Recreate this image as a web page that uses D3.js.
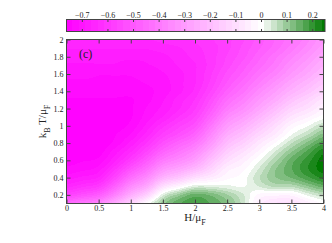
<!DOCTYPE html>
<html>
<head>
<meta charset="utf-8">
<script src="https://cdn.jsdelivr.net/npm/d3@7"></script>
<style>
    body { margin: 0; background: #fff; }
    text { font-family: "Liberation Serif", "Times New Roman", serif; fill: #222; }
</style>
</head>
<body>
<div id="chart"></div>
<script>
// grid nodes of the map
var hValues = [0, 0.25, 0.5, 0.75, 1, 1.25, 1.5, 1.75, 2, 2.25, 2.5, 2.75, 3, 3.25, 3.5, 3.75, 4]
var tValues = [2.0, 1.9, 1.8, 1.7, 1.6, 1.5, 1.4, 1.3, 1.2, 1.1, 1.0, 0.9, 0.8, 0.7, 0.6, 0.5, 0.4, 0.3, 0.2, 0.1]

// one column per H value, entries follow tValues (top to bottom)
var zColumns = [
    [-0.64, -0.66, -0.68, -0.69, -0.70, -0.72, -0.73, -0.74, -0.75, -0.75, -0.76, -0.76, -0.76, -0.76, -0.75, -0.73, -0.70, -0.65, -0.57, -0.45],
    [-0.64, -0.66, -0.68, -0.69, -0.70, -0.72, -0.73, -0.74, -0.75, -0.75, -0.76, -0.76, -0.76, -0.76, -0.74, -0.72, -0.68, -0.62, -0.53, -0.41],
    [-0.64, -0.66, -0.68, -0.69, -0.71, -0.72, -0.73, -0.74, -0.75, -0.75, -0.76, -0.76, -0.76, -0.75, -0.73, -0.70, -0.66, -0.59, -0.49, -0.37],
    [-0.64, -0.66, -0.68, -0.69, -0.71, -0.72, -0.73, -0.74, -0.75, -0.75, -0.75, -0.74, -0.73, -0.70, -0.67, -0.62, -0.56, -0.48, -0.38, -0.26],
    [-0.64, -0.66, -0.68, -0.70, -0.71, -0.72, -0.73, -0.74, -0.74, -0.74, -0.73, -0.71, -0.68, -0.64, -0.59, -0.52, -0.44, -0.35, -0.25, -0.14],
    [-0.64, -0.66, -0.68, -0.69, -0.70, -0.71, -0.72, -0.72, -0.71, -0.70, -0.68, -0.65, -0.61, -0.56, -0.50, -0.43, -0.35, -0.26, -0.14, -0.01],
    [-0.63, -0.65, -0.67, -0.68, -0.69, -0.70, -0.70, -0.69, -0.68, -0.66, -0.62, -0.58, -0.53, -0.47, -0.40, -0.32, -0.23, -0.10, 0.03, 0.10],
    [-0.62, -0.64, -0.65, -0.66, -0.67, -0.67, -0.67, -0.65, -0.64, -0.61, -0.57, -0.53, -0.47, -0.41, -0.35, -0.27, -0.17, -0.03, 0.10, 0.16],
    [-0.61, -0.62, -0.63, -0.64, -0.64, -0.64, -0.63, -0.61, -0.59, -0.56, -0.52, -0.47, -0.41, -0.35, -0.29, -0.21, -0.10, 0.03, 0.15, 0.18],
    [-0.59, -0.60, -0.60, -0.60, -0.59, -0.58, -0.56, -0.53, -0.50, -0.46, -0.41, -0.36, -0.31, -0.25, -0.19, -0.13, -0.06, 0.03, 0.13, 0.16],
    [-0.57, -0.57, -0.56, -0.55, -0.53, -0.51, -0.48, -0.44, -0.40, -0.35, -0.30, -0.25, -0.20, -0.15, -0.10, -0.05, -0.02, 0.02, 0.09, 0.12],
    [-0.54, -0.53, -0.52, -0.50, -0.48, -0.45, -0.42, -0.38, -0.34, -0.29, -0.24, -0.19, -0.14, -0.09, -0.05, -0.02, 0.00, 0.01, 0.04, 0.05],
    [-0.50, -0.49, -0.47, -0.45, -0.42, -0.39, -0.35, -0.31, -0.27, -0.22, -0.17, -0.12, -0.07, -0.03, 0.01, 0.04, 0.06, 0.04, -0.02, -0.05],
    [-0.46, -0.45, -0.42, -0.40, -0.37, -0.33, -0.29, -0.25, -0.20, -0.15, -0.10, -0.06, -0.01, 0.04, 0.08, 0.11, 0.11, 0.07, -0.03, -0.09],
    [-0.42, -0.40, -0.37, -0.34, -0.31, -0.27, -0.23, -0.18, -0.13, -0.08, -0.03, 0.01, 0.06, 0.11, 0.15, 0.16, 0.14, 0.07, -0.03, -0.09],
    [-0.37, -0.35, -0.32, -0.29, -0.26, -0.22, -0.18, -0.13, -0.09, -0.04, 0.01, 0.06, 0.12, 0.17, 0.20, 0.21, 0.18, 0.11, 0.02, -0.05],
    [-0.32, -0.30, -0.27, -0.24, -0.21, -0.17, -0.13, -0.08, -0.04, 0.00, 0.06, 0.12, 0.18, 0.23, 0.25, 0.25, 0.22, 0.15, 0.06, -0.01]
]

var xTicks = [0, 0.5, 1, 1.5, 2, 2.5, 3, 3.5, 4]
var yTicks = [0.2, 0.4, 0.6, 0.8, 1, 1.2, 1.4, 1.6, 1.8, 2]
var cbTicks = [-0.7, -0.6, -0.5, -0.4, -0.3, -0.2, -0.1, 0, 0.1, 0.2]
var cbRange = [-0.76, 0.25]

//---------------------------------------------------
// layout
//---------------------------------------------------
var width = 332, height = 243
var plotLeft = 66.5, plotRight = 323.5, plotTop = 39.5, plotBottom = 203.5
var barTop = 19.5, barBottom = 31.5, barLeft = 66.5, barRight = 325
var frameColor = "#444"

var svg = d3.select("#chart").append("svg")
    .attr("width", width)
    .attr("height", height)

var x = d3.scaleLinear().domain([0, 4]).range([plotLeft, plotRight])
var y = d3.scaleLinear().domain([0.1, 2]).range([plotBottom, plotTop])
var cbX = d3.scaleLinear().domain(cbRange).range([barLeft, barRight])

var color = d3.scaleLinear()
    .domain([cbRange[0], 0, cbRange[1]])
    .range(["#ff00ff", "#ffffff", "#007a00"])
    .clamp(true)
var step = 0.025
function bandColor(v) {
    return color(Math.round(v / step) * step)
}

// fractional grid index for a given H or T
var hIndex = d3.scaleLinear().domain([hValues[0], hValues[hValues.length - 1]]).range([0, hValues.length - 1]).clamp(true)
var tIndex = d3.scaleLinear().domain([tValues[0], tValues[tValues.length - 1]]).range([0, tValues.length - 1]).clamp(true)

// smooth (catmull-rom) shading between the grid nodes
function cr(p0, p1, p2, p3, s) {
    return 0.5 * (2 * p1 + (p2 - p0) * s + (2 * p0 - 5 * p1 + 4 * p2 - p3) * s * s + (3 * p1 - p0 - 3 * p2 + p3) * s * s * s)
}
function node(i, j) {
    i = Math.max(0, Math.min(hValues.length - 1, i))
    j = Math.max(0, Math.min(tValues.length - 1, j))
    return zColumns[i][j]
}
function valueAt(h, t) {
    var fi = hIndex(h), fj = tIndex(t)
    var i0 = Math.min(Math.floor(fi), hValues.length - 2)
    var j0 = Math.min(Math.floor(fj), tValues.length - 2)
    var a = fi - i0, b = fj - j0
    var col = []
    for (var k = -1; k <= 2; k++) {
        col.push(cr(node(i0 - 1, j0 + k), node(i0, j0 + k), node(i0 + 1, j0 + k), node(i0 + 2, j0 + k), a))
    }
    return cr(col[0], col[1], col[2], col[3], b)
}

//------------------------------------------
// the map, drawn as runs of equal colour per pixel row
//------------------------------------------
var cells = []
var pxStart = Math.ceil(plotLeft), pxEnd = Math.floor(plotRight)
for (var py = Math.ceil(plotTop); py < plotBottom; py++) {
    var t = y.invert(py + 0.5)
    var runStart = pxStart, runColor = null
    for (var px = pxStart; px < pxEnd; px++) {
        var c = bandColor(valueAt(x.invert(px + 0.5), t))
        if (c !== runColor) {
            if (runColor !== null) cells.push({ x: runStart, y: py, w: px - runStart, c: runColor })
            runStart = px
            runColor = c
        }
    }
    cells.push({ x: runStart, y: py, w: pxEnd - runStart, c: runColor })
}

svg.append("g").selectAll("rect")
    .data(cells)
    .enter().append("rect")
    .attr("x", d => d.x).attr("y", d => d.y)
    .attr("width", d => d.w + 0.3).attr("height", 1.3)
    .attr("fill", d => d.c)
    .attr("shape-rendering", "crispEdges")

//------------------------------------------
// axes with inward ticks on all four sides
//------------------------------------------
function styleAxis(sel) {
    sel.select(".domain").remove()
    sel.selectAll("line").attr("stroke", frameColor)
    sel.selectAll("text").style("font-size", "8px").style("fill", "#222")
}

svg.append("g")
    .attr("transform", "translate(0," + plotBottom + ")")
    .call(d3.axisBottom(x).tickValues(xTicks).tickSizeInner(-4).tickSizeOuter(0).tickPadding(1.5).tickFormat(d3.format("~g")))
    .call(styleAxis)
svg.append("g")
    .attr("transform", "translate(0," + plotTop + ")")
    .call(d3.axisTop(x).tickValues(xTicks).tickSizeInner(-4).tickSizeOuter(0).tickFormat(""))
    .call(styleAxis)
svg.append("g")
    .attr("transform", "translate(" + plotLeft + ",0)")
    .call(d3.axisLeft(y).tickValues(yTicks).tickSizeInner(-4).tickSizeOuter(0).tickPadding(3).tickFormat(d3.format("~g")))
    .call(styleAxis)
svg.append("g")
    .attr("transform", "translate(" + plotRight + ",0)")
    .call(d3.axisRight(y).tickValues(yTicks).tickSizeInner(-4).tickSizeOuter(0).tickFormat(""))
    .call(styleAxis)

svg.append("rect")
    .attr("x", plotLeft).attr("y", plotTop)
    .attr("width", plotRight - plotLeft).attr("height", plotBottom - plotTop)
    .attr("fill", "none").attr("stroke", frameColor).attr("stroke-width", 1)

//------------------------------------------
// colour bar
//------------------------------------------
var barPixels = d3.range(Math.ceil(barLeft), Math.floor(barRight))
svg.append("g").selectAll("rect")
    .data(barPixels)
    .enter().append("rect")
    .attr("x", d => d).attr("y", barTop)
    .attr("width", 1.2).attr("height", barBottom - barTop)
    .attr("fill", d => bandColor(cbX.invert(d + 0.5)))
    .attr("shape-rendering", "crispEdges")

svg.append("g")
    .attr("transform", "translate(0," + barTop + ")")
    .call(d3.axisTop(cbX).tickValues(cbTicks).tickSizeInner(-2.5).tickSizeOuter(0).tickPadding(2).tickFormat(d3.format("~g")))
    .call(styleAxis)
svg.append("g")
    .attr("transform", "translate(0," + barBottom + ")")
    .call(d3.axisBottom(cbX).tickValues(cbTicks).tickSizeInner(-2.5).tickSizeOuter(0).tickFormat(""))
    .call(styleAxis)

svg.append("rect")
    .attr("x", barLeft).attr("y", barTop)
    .attr("width", barRight - barLeft).attr("height", barBottom - barTop)
    .attr("fill", "none").attr("stroke", frameColor).attr("stroke-width", 1)

//------------------------------------------
// labels
//------------------------------------------
svg.append("text")
    .attr("x", 79).attr("y", 58)
    .style("font-size", "12px")
    .text("(c)")

var xLabel = svg.append("text")
    .attr("x", (plotLeft + plotRight) / 2).attr("y", 221)
    .attr("text-anchor", "middle")
    .style("font-size", "11px")
xLabel.append("tspan").text("H/μ")
xLabel.append("tspan").attr("dy", 4).style("font-size", "8px").text("F")

var yLabel = svg.append("text")
    .attr("transform", "translate(45.5," + ((plotTop + plotBottom) / 2) + ") rotate(-90)")
    .attr("text-anchor", "middle")
    .style("font-size", "11px")
yLabel.append("tspan").text("k")
yLabel.append("tspan").attr("dy", 4).style("font-size", "8px").text("B")
yLabel.append("tspan").attr("dy", -4).text(" T/μ")
yLabel.append("tspan").attr("dy", 4).style("font-size", "8px").text("F")
</script>
</body>
</html>
